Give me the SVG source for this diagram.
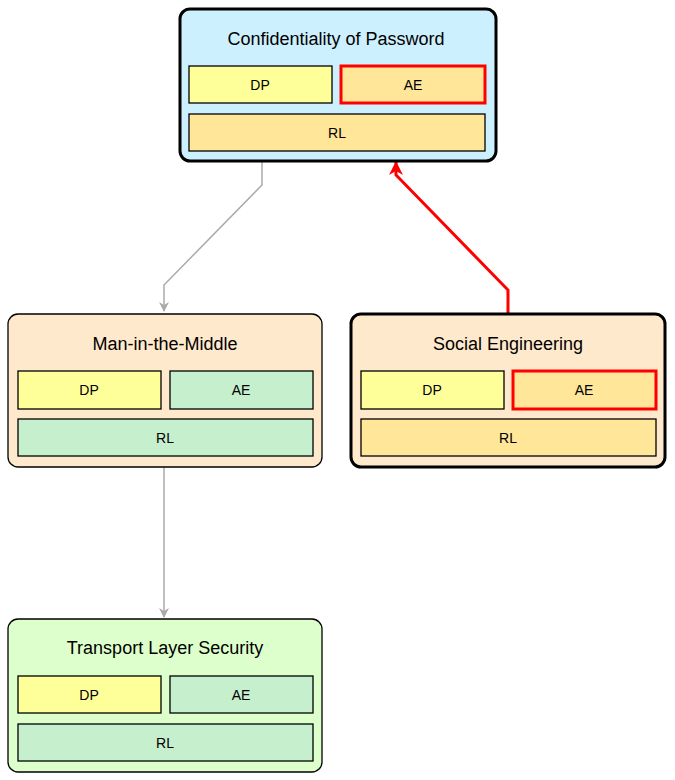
<svg xmlns="http://www.w3.org/2000/svg" width="675" height="780" viewBox="0 0 675 780">
<style>
text{font-family:"Liberation Sans",Arial,sans-serif;text-anchor:middle;fill:#000}
.t{font-size:18px}
.l{font-size:14px}
.c{stroke:#000;stroke-width:1.5}
.b{stroke:#000;stroke-width:1.3}
.dp{fill:#ffff99}
.or{fill:#ffe699}
.gr{fill:#c6efce}
.red{stroke:#ff0000;stroke-width:3}
</style>
<defs>
<marker id="ag" markerWidth="10" markerHeight="10" refX="9" refY="5" orient="auto" markerUnits="userSpaceOnUse"><path d="M0,0 L10,5 L0,10 L3,5 z" fill="#aaaaaa"/></marker>
<marker id="ar" markerWidth="14" markerHeight="14" refX="13" refY="7" orient="auto" markerUnits="userSpaceOnUse"><path d="M0,0 L14,7 L0,14 L4,7 z" fill="#ff0000"/></marker>
</defs>
<g id="connectors" fill="none">
<polyline points="262,161 262,185 164,285 164,311" stroke="#aaaaaa" stroke-width="1.5" marker-end="url(#ag)"/>
<polyline points="164,467 164,617" stroke="#aaaaaa" stroke-width="1.5" marker-end="url(#ag)"/>
<polyline points="508,314 508,290 396,175 396,162" stroke="#ff0000" stroke-width="3" marker-end="url(#ar)"/>
</g>
<g id="n1">
<rect x="180" y="9" width="316" height="152" rx="10" fill="#cdf0ff" stroke="#000" stroke-width="3"/>
<text class="t" x="336" y="45">Confidentiality of Password</text>
<rect class="dp b" x="189" y="66" width="143" height="37"/><text class="l" x="260" y="90">DP</text>
<rect class="or red" x="341" y="66" width="144" height="37"/><text class="l" x="413" y="90">AE</text>
<rect class="or b" x="189" y="114" width="296" height="37"/><text class="l" x="337" y="138">RL</text>
</g>
<g id="n2">
<rect x="8" y="314" width="314" height="153" rx="10" fill="#ffe9cc" stroke="#000" stroke-width="1.3"/>
<text class="t" x="165" y="350">Man-in-the-Middle</text>
<rect class="dp b" x="18" y="371" width="143" height="38"/><text class="l" x="89" y="395">DP</text>
<rect class="gr b" x="170" y="371" width="143" height="38"/><text class="l" x="241" y="395">AE</text>
<rect class="gr b" x="18" y="419" width="295" height="37"/><text class="l" x="165" y="443">RL</text>
</g>
<g id="n3">
<rect x="351" y="314" width="314" height="153" rx="10" fill="#ffe9cc" stroke="#000" stroke-width="3"/>
<text class="t" x="508" y="350">Social Engineering</text>
<rect class="dp b" x="361" y="371" width="143" height="38"/><text class="l" x="432" y="395">DP</text>
<rect class="or red" x="513" y="371" width="143" height="38"/><text class="l" x="584" y="395">AE</text>
<rect class="or b" x="361" y="419" width="295" height="37"/><text class="l" x="508" y="443">RL</text>
</g>
<g id="n4">
<rect x="8" y="619" width="314" height="153" rx="10" fill="#ddffcc" stroke="#000" stroke-width="1.3"/>
<text class="t" x="165" y="654">Transport Layer Security</text>
<rect class="dp b" x="18" y="676" width="143" height="37"/><text class="l" x="89" y="700">DP</text>
<rect class="gr b" x="170" y="676" width="143" height="37"/><text class="l" x="241" y="700">AE</text>
<rect class="gr b" x="18" y="724" width="295" height="37"/><text class="l" x="165" y="748">RL</text>
</g>
</svg>
